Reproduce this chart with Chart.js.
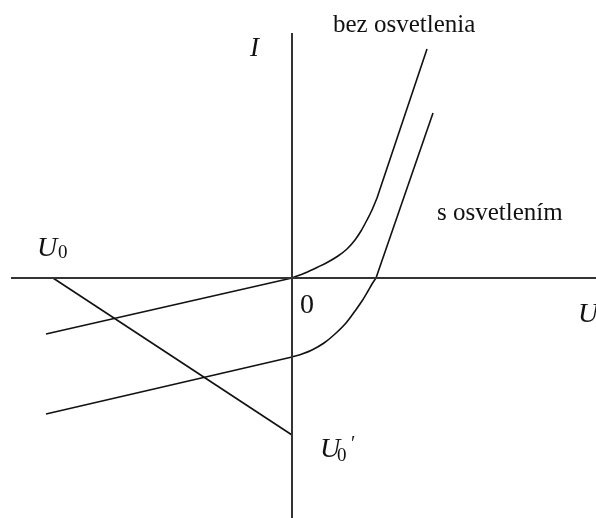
<!DOCTYPE html>
<html>
<head>
<meta charset="utf-8">
<title>V-A charakteristika fotodiódy</title>
<script src="https://cdn.jsdelivr.net/npm/chart.js"></script>
<style>
  html, body { margin: 0; padding: 0; background: #fff; }
  #wrap { position: relative; width: 596px; height: 518px; }
</style>
</head>
<body>
<div id="wrap"><canvas id="vaChart"></canvas></div>
<script>
// axis ranges (U horizontal, I vertical), arbitrary units
const uRange = [-29.2, 30.4];
const iRange = [-24.0, 27.8];

// axes drawn as lines through the origin
const uAxis = [{x: -28.1, y: 0}, {x: 30.4, y: 0}];
const iAxis = [{x: 0, y: 24.5}, {x: 0, y: -24.0}];

// dark characteristic (bez osvetlenia)
const darkReverse = [{x: -24.6, y: -5.6}, {x: 0, y: 0}];
const darkBend = [
  {x: 0, y: 0}, {x: 1.3, y: 0.5}, {x: 2.6, y: 1.1}, {x: 3.6, y: 1.6},
  {x: 4.6, y: 2.2}, {x: 5.5, y: 2.9}, {x: 6.3, y: 3.8}, {x: 6.9, y: 4.7},
  {x: 7.5, y: 5.8}, {x: 8.0, y: 6.8}, {x: 8.5, y: 8.0}
];
const darkRise = [{x: 8.5, y: 8.0}, {x: 13.5, y: 22.9}];

// illuminated characteristic (s osvetlením)
const lightReverse = [{x: -24.6, y: -13.6}, {x: 0, y: -7.9}];
const lightBend = [
  {x: 0, y: -7.9}, {x: 1.0, y: -7.6}, {x: 2.0, y: -7.2}, {x: 3.2, y: -6.5},
  {x: 4.3, y: -5.6}, {x: 5.4, y: -4.5}, {x: 6.3, y: -3.3}, {x: 7.0, y: -2.3},
  {x: 7.6, y: -1.3}, {x: 8.0, y: -0.6}, {x: 8.4, y: 0}
];
const lightRise = [{x: 8.4, y: 0}, {x: 14.1, y: 16.5}];

// load line between U0 and U0'
const loadLine = [{x: -23.9, y: 0}, {x: 0, y: -15.7}];

function line(data, opts) {
  return Object.assign({
    data: data,
    showLine: true,
    borderColor: '#111',
    borderWidth: 1.6,
    pointRadius: 0,
    fill: false,
    tension: 0
  }, opts || {});
}

// text labels placed in data coordinates
const textPlugin = {
  id: 'texts',
  afterDatasetsDraw(chart) {
    const {ctx, scales} = chart;
    const px = v => scales.x.getPixelForValue(v);
    const py = v => scales.y.getPixelForValue(v);
    const serif = '"Liberation Serif", "Times New Roman", serif';
    const put = (txt, u, i, font) => {
      ctx.font = font;
      ctx.fillText(txt, px(u), py(i));
    };
    ctx.save();
    ctx.fillStyle = '#111';
    ctx.textBaseline = 'alphabetic';
    ctx.textAlign = 'left';

    put('bez osvetlenia', 4.1, 24.6, '25px ' + serif);
    put('s osvetlením', 14.5, 5.8, '25px ' + serif);

    put('I', -4.2, 22.2, 'italic 27px ' + serif);
    put('U', 28.6, -4.4, 'italic 28px ' + serif);
    put('0', 0.8, -3.5, '28px ' + serif);

    // U0 on the voltage axis
    put('U', -25.5, 2.2, 'italic 28px ' + serif);
    put('0', -23.4, 2.0, '19px ' + serif);

    // U0' on the current axis
    put('U', 2.8, -17.9, 'italic 28px ' + serif);
    put('0', 4.5, -18.3, '19px ' + serif);
    put('\u2032', 5.9, -17.2, '20px ' + serif);
    ctx.restore();
  }
};

const ctx = document.getElementById('vaChart').getContext('2d');
new Chart(ctx, {
  type: 'scatter',
  data: {
    datasets: [
      line(uAxis, {borderColor: '#333', borderWidth: 2}),
      line(iAxis, {borderColor: '#333', borderWidth: 2}),
      line(darkReverse),
      line(darkBend, {cubicInterpolationMode: 'monotone'}),
      line(darkRise),
      line(lightReverse),
      line(lightBend, {cubicInterpolationMode: 'monotone'}),
      line(lightRise),
      line(loadLine)
    ]
  },
  options: {
    responsive: true,
    maintainAspectRatio: false,
    animation: false,
    layout: {padding: 0},
    plugins: {
      legend: {display: false},
      tooltip: {enabled: false}
    },
    scales: {
      x: {type: 'linear', display: false, min: uRange[0], max: uRange[1]},
      y: {type: 'linear', display: false, min: iRange[0], max: iRange[1]}
    }
  },
  plugins: [textPlugin]
});
</script>
</body>
</html>
